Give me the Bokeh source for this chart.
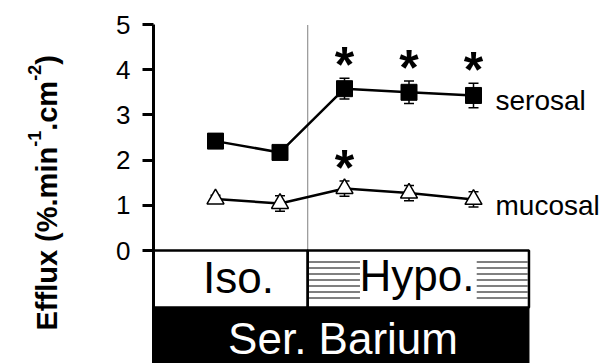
import math
from bokeh.plotting import figure
from bokeh.models import Range1d, FixedTicker, Whisker, TeeHead, ColumnDataSource
from bokeh.core.properties import value
from bokeh.embed import file_html
from bokeh.resources import INLINE

# ---- data ----
x = [1, 2, 3, 4, 5]
serosal = [2.42, 2.17, 3.58, 3.50, 3.43]
serosal_err = [0.05, 0.05, 0.23, 0.25, 0.27]
mucosal = [1.14, 1.04, 1.37, 1.27, 1.13]
mucosal_err = [0.08, 0.17, 0.17, 0.17, 0.17]
serosal_sig = [False, False, True, True, True]
mucosal_sig = [False, False, True, False, False]
y_ticks = [0, 1, 2, 3, 4, 5]
groups = ["Iso.", "Hypo."]
group_edges = [0.04, 2.43, 5.86]
treatment = "Ser. Barium"
series_names = ["serosal", "mucosal"]
y_label_parts = [("Efflux (%.min", False), ("-1", True), (".cm", False), ("-2", True), (")", False)]

FONT = "Liberation Sans"
W, H = 611, 363
SX, SY = 64.5, 45.2          # pixels per data unit
x0 = 1 - 215 / SX
x1 = x0 + W / SX
y1 = 5 + 24 / SY
y0 = y1 - H / SY

p = figure(width=W, height=H, output_backend="svg", toolbar_location=None,
           x_range=Range1d(x0, x1), y_range=Range1d(y0, y1),
           x_axis_location=None, y_axis_location="left",
           min_border=0, min_border_left=0, min_border_top=0, min_border_right=0,
           min_border_bottom=0)
p.outline_line_color = None
p.xgrid.visible = False
p.ygrid.visible = False
p.background_fill_color = "white"
p.border_fill_color = "white"

ax = p.yaxis[0]
ax.fixed_location = group_edges[0]
ax.bounds = (y0, 5)
ax.ticker = FixedTicker(ticks=y_ticks)
ax.axis_line_width = 3
ax.major_tick_line_width = 3
ax.major_tick_out = 11
ax.major_tick_in = 0
ax.minor_tick_line_color = None
ax.major_label_standoff = 12
ax.major_label_text_font = FONT
ax.major_label_text_font_size = "26px"
ax.major_label_text_color = "black"

# ---- condition boxes below the axis ----
box_top, box_mid = 0.0, -1.26
p.quad(left=[group_edges[0]], right=[group_edges[-1]], top=[box_mid], bottom=[y0],
       fill_color="black", line_color="black")
p.quad(left=group_edges[:-1], right=group_edges[1:], top=[box_top] * 2, bottom=[box_mid] * 2,
       fill_color="white", line_color="black", line_width=2.5)
hl = group_edges[1] + 0.02
hr = group_edges[2] - 0.02
hw = 0.79
p.quad(left=[hl, hr - hw], right=[hl + hw, hr], top=[-0.16] * 2, bottom=[-1.08] * 2,
       fill_alpha=0, line_alpha=0, hatch_pattern="horizontal_line", hatch_scale=6,
       hatch_weight=1, hatch_color="black")
p.text(x=[1.357, 4.124], y=[-0.608, -0.553], text=groups, text_font=value(FONT),
       text_font_size="44px", text_align="center", text_baseline="middle", text_color="black")
p.text(x=[2.977], y=[-1.947], text=[treatment], text_font=value(FONT),
       text_font_size="44px", text_align="center", text_baseline="middle", text_color="white")

# divider between conditions
p.segment(x0=[group_edges[1]], y0=[0], x1=[group_edges[1]], y1=[5],
          line_color="black", line_width=1, line_dash="1 1")

# ---- error bars ----
for vals, errs in ((serosal, serosal_err), (mucosal, mucosal_err)):
    src = ColumnDataSource(dict(x=x, lo=[v - e for v, e in zip(vals, errs)],
                                hi=[v + e for v, e in zip(vals, errs)]))
    p.add_layout(Whisker(source=src, base="x", lower="lo", upper="hi", line_width=1.5,
                         line_color="black",
                         upper_head=TeeHead(size=10, line_width=1.5, line_color="black"),
                         lower_head=TeeHead(size=10, line_width=1.5, line_color="black")))

# ---- series ----
p.line(x, serosal, line_color="black", line_width=2.5)
p.line(x, mucosal, line_color="black", line_width=2.5)
p.scatter(x, serosal, marker="square", size=16, fill_color="black", line_color="black")
p.scatter(x, mucosal, marker="triangle", size=17, fill_color="white", line_color="black",
          line_width=1.5)

# significance stars
star_x, star_y = [], []
for vals, errs, sig in ((serosal, serosal_err, serosal_sig), (mucosal, mucosal_err, mucosal_sig)):
    for xi, v, e, s in zip(x, vals, errs, sig):
        if s:
            star_x.append(xi)
            star_y.append(v + e)
p.text(x=star_x, y=star_y, text=["*"] * len(star_x), text_font=value(FONT),
       text_font_size="50px", text_font_style="bold", text_align="center",
       text_baseline="alphabetic", text_color="black", y_offset=-13)

# series labels
p.text(x=[5.341, 5.341], y=[3.32, 1.0], text=series_names, text_font=value(FONT),
       text_font_size="28px", text_align="left", text_baseline="alphabetic", text_color="black")

# ---- rotated y-axis title with superscripts ----
ARIAL_BOLD = {'E': .667, 'f': .333, 'l': .278, 'u': .611, 'x': .556, ' ': .278, '(': .333,
              '%': .889, '.': .278, 'm': .889, 'i': .278, 'n': .611, 'c': .556, ')': .333,
              '-': .333, '1': .556, '2': .556}
main_size, sup_size, sup_raise = 29, 18, 12
xb = x0 + 46 / SX
ycur = y1 - 330 / SY
for txt, sup in y_label_parts:
    size = sup_size if sup else main_size
    xpos = xb - (sup_raise / SX if sup else 0)
    p.text(x=[xpos], y=[ycur], text=[txt], angle=math.pi / 2, text_font=value(FONT),
           text_font_size=f"{size}px", text_font_style="bold",
           text_align="left", text_baseline="alphabetic", text_color="black")
    ycur += sum(ARIAL_BOLD.get(c, .556) for c in txt) * size / SY

open("out.html", "w").write(file_html(p, INLINE))
